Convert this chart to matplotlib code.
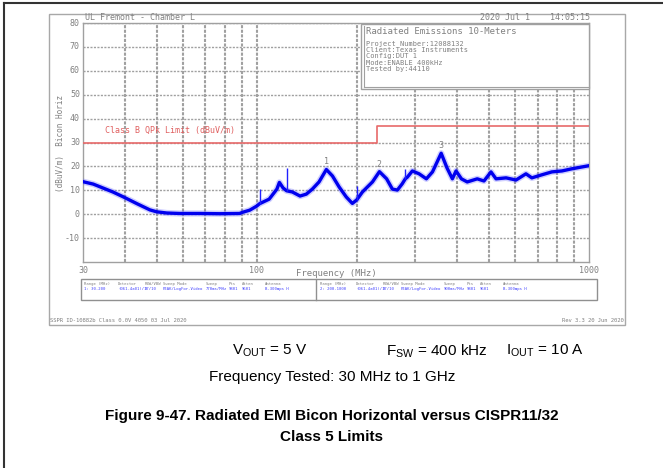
import matplotlib
matplotlib.use("Agg")
import matplotlib.pyplot as plt
from matplotlib.patches import Rectangle
from matplotlib.lines import Line2D

W, H = 663, 468

# measured trace (MHz, dBuV/m), peak detector sweep
freq = [30, 32.2, 36.9, 39.6, 43.6, 47.7, 50, 53.6, 58.7, 67.4, 77.3, 88.8, 90.7,
        95.3, 100, 102, 109, 115, 117, 120, 123, 128,
        135, 141, 147, 154, 162, 169, 177, 186, 194, 200, 208, 223,
        234, 246, 256, 265, 274, 280, 284, 294, 308, 324, 338, 359, 374,
        388, 398, 413, 430, 461, 483, 507, 525, 563, 603, 646, 673, 722, 773, 829,
        888, 1000]
level = [13.6, 12.6, 9.3, 7.3, 4.4, 1.8, 1.0, 0.5, 0.3, 0.3, 0.2, 0.3, 0.8,
         1.7, 3.4, 4.4, 6.3, 10.5, 13.3, 11.0, 9.8, 9.3,
         7.6, 8.4, 10.5, 13.5, 18.7, 16.0, 11.4, 7.2, 4.5, 6.0, 9.3, 13.5,
         17.8, 14.8, 10.5, 10.1, 12.7, 14.8, 15.5, 18.1, 16.9, 14.8, 17.7,
         25.5, 19.3, 14.8, 18.1, 14.8, 13.5, 14.8, 13.9, 17.7, 14.8, 15.2, 14.3, 16.9,
         15.2, 16.5, 17.7, 18.1, 19.0, 20.3]

# narrow spurs sitting on the trace: (MHz, base, top)
spur_freq = [102, 123, 200, 280]
spur_base = [4.4, 9.8, 6.0, 14.8]
spur_top = [10.5, 19.5, 12.0, 19.0]

# CISPR 11/32 class B quasi-peak limit
limit_freq = [30, 230, 230, 1000]
limit_level = [30, 30, 37, 37]

# marked peaks
peak_ids = ["1", "2", "3"]
peak_freq = [162, 234, 359]
peak_level = [18.7, 17.8, 25.5]

y_ticks = [80, 70, 60, 50, 40, 30, 20, 10, 0, -10]
x_ticks = [30, 100, 1000]
x_grid = [40, 50, 60, 70, 80, 90, 200, 300, 400, 500, 600, 700, 800, 900]

info_lines = ["Project Number:12088132", "Client:Texas Instruments",
              "Config:DUT 1", "Mode:ENABLE 400kHz", "Tested by:44110"]
strip_heads = ["Range (MHz)", "Detector", "RBW/VBW", "Sweep Mode", "Sweep",
               "Pts", "Atten", "Antenna"]
strip_left = ["1: 30-200", "(061-4a01)/1", "97/10", "PEAK/LogFor-Video",
              "770ms/MHz", "9801", "9601", "B-300mps H"]
strip_right = ["2: 200-1000", "(061-4a01)/1", "97/10", "PEAK/LogFor-Video",
               "900ms/MHz", "9801", "9601", "B-300mps H"]

GREY = "#808080"
MONO = "DejaVu Sans Mono"


def fx(x):
    return x / W


def fy(y):
    return 1 - y / H


fig = plt.figure(figsize=(W / 100, H / 100), dpi=100)

# page border (left and top)
fig.add_artist(Line2D([fx(4), fx(4)], [fy(3), 0], color="#333333", lw=1.5))
fig.add_artist(Line2D([fx(4), 1], [fy(3), fy(3)], color="#333333", lw=1.5))

# analyzer printout frame
fig.add_artist(Rectangle((fx(49), fy(325)), fx(625 - 49), (325 - 14) / H,
                         fill=False, ec="#a8a8a8", lw=1.0))

ax = fig.add_axes([fx(83), fy(262), fx(589 - 83), (262 - 23) / H])
ax.set_xscale("log")
ax.set_xlim(30, 1000)
ax.set_ylim(-20, 80)

for v in y_ticks:
    ax.axhline(v, color="#a0a0a0", lw=1.0, ls=(0, (1.5, 1)), zorder=1)
for f in x_grid + [100]:
    ax.axvline(f, color="#a0a0a0", lw=1.5, ls=(0, (1.5, 0.7)), zorder=1)

ax.plot(limit_freq, limit_level, color="#e86a6a", lw=1.2, zorder=3)
ax.plot(freq, level, color="#6060ff", lw=4.5, alpha=0.3, zorder=4)
ax.plot(freq, level, color="#0000ee", lw=2.4, zorder=5)
ax.vlines(spur_freq, spur_base, spur_top, color="#2020ff", lw=1.0, zorder=5)

for pid, f, v in zip(peak_ids, peak_freq, peak_level):
    ax.text(f, v + 1.3, pid, color=GREY, fontsize=6, family=MONO,
            ha="center", va="bottom", zorder=6)

ax.set_xticks([])
ax.set_yticks([])
ax.minorticks_off()
for s in ax.spines.values():
    s.set_color("#a0a0a0")
    s.set_linewidth(1.0)

# axis labels drawn as text in printout style
for v in y_ticks:
    ax.text(-0.006, (v + 20) / 100, str(v), transform=ax.transAxes, ha="right",
            va="center", fontsize=6, family=MONO, color=GREY)
for f in x_ticks:
    ax.text(f, -21.5, str(f), ha="center", va="top", fontsize=6, family=MONO,
            color=GREY)
fig.text(fx(336), fy(273), "Frequency (MHz)", ha="center", va="center",
         fontsize=6.5, family=MONO, color=GREY)
fig.text(fx(60), fy(143), "(dBuV/m)  Bicon Horiz", rotation=90, ha="center",
         va="center", fontsize=5.5, family=MONO, color=GREY)
ax.text(35, 33, "Class B QPk Limit (dBuV/m)", fontsize=6, family=MONO,
        color="#e06060", va="bottom")

# header
fig.text(fx(85), fy(18), "UL Fremont - Chamber L", fontsize=6, family=MONO,
         color=GREY, va="center")
fig.text(fx(590), fy(18), "2020 Jul 1    14:05:15", fontsize=6, family=MONO,
         color=GREY, va="center", ha="right")

# test info box
fig.add_artist(Rectangle((fx(361), fy(89)), fx(589 - 361), (89 - 24) / H,
                         fc="white", ec="#a0a0a0", lw=1.0, zorder=5))
fig.add_artist(Line2D([fx(363.5), fx(363.5)], [fy(87), fy(26)], color="#a0a0a0",
                      lw=0.8, zorder=6))
fig.add_artist(Line2D([fx(363.5), fx(589)], [fy(87), fy(87)], color="#a0a0a0",
                      lw=0.8, zorder=6))
fig.text(fx(366), fy(32), "Radiated Emissions 10-Meters", fontsize=6.5,
         family=MONO, color=GREY, va="center", zorder=7)
for i, line in enumerate(info_lines):
    fig.text(fx(366), fy(44 + i * 6.2), line, fontsize=5, family=MONO,
             color=GREY, va="center", zorder=7)

# sweep settings strip
fig.add_artist(Rectangle((fx(81), fy(300)), fx(597 - 81), 21 / H,
                         fill=False, ec="#909090", lw=1.0))
fig.add_artist(Line2D([fx(316), fx(316)], [fy(300), fy(279)], color="#909090",
                      lw=1.0))
col_left = [84, 118, 145, 163, 206, 229, 242, 265]
col_right = [320, 356, 383, 401, 444, 467, 480, 503]
for heads, vals, cols in [(strip_heads, strip_left, col_left),
                          (strip_heads, strip_right, col_right)]:
    for h, v, c in zip(heads, vals, cols):
        fig.text(fx(c), fy(284), h, fontsize=2.8, family=MONO, color=GREY,
                 va="center")
        fig.text(fx(c), fy(289), v, fontsize=2.8, family=MONO, color="#4040ff",
                 va="center")

# printout footer
fig.text(fx(50), fy(321), "SSPR ID-10882b Class 0.0V 4050 03 Jul 2020",
         fontsize=4, family=MONO, color=GREY, va="center")
fig.text(fx(624), fy(321), "Rev 3.3 20 Jun 2020", fontsize=4, family=MONO,
         color=GREY, va="center", ha="right")

# caption
cap = dict(family="Liberation Sans", color="black", ha="center", va="center")
fig.text(fx(270), fy(351), r"V$_{\mathregular{OUT}}$ = 5 V", fontsize=11, **cap)
fig.text(fx(437), fy(351), r"F$_{\mathregular{SW}}$ = 400 kHz", fontsize=11, **cap)
fig.text(fx(545), fy(351), r"I$_{\mathregular{OUT}}$ = 10 A", fontsize=11, **cap)
fig.text(fx(332), fy(377), "Frequency Tested: 30 MHz to 1 GHz", fontsize=11, **cap)
fig.text(fx(332), fy(416),
         "Figure 9-47. Radiated EMI Bicon Horizontal versus CISPR11/32",
         fontsize=11, weight="bold", **cap)
fig.text(fx(332), fy(437), "Class 5 Limits", fontsize=11, weight="bold", **cap)

fig.savefig("out.png", dpi=100)
